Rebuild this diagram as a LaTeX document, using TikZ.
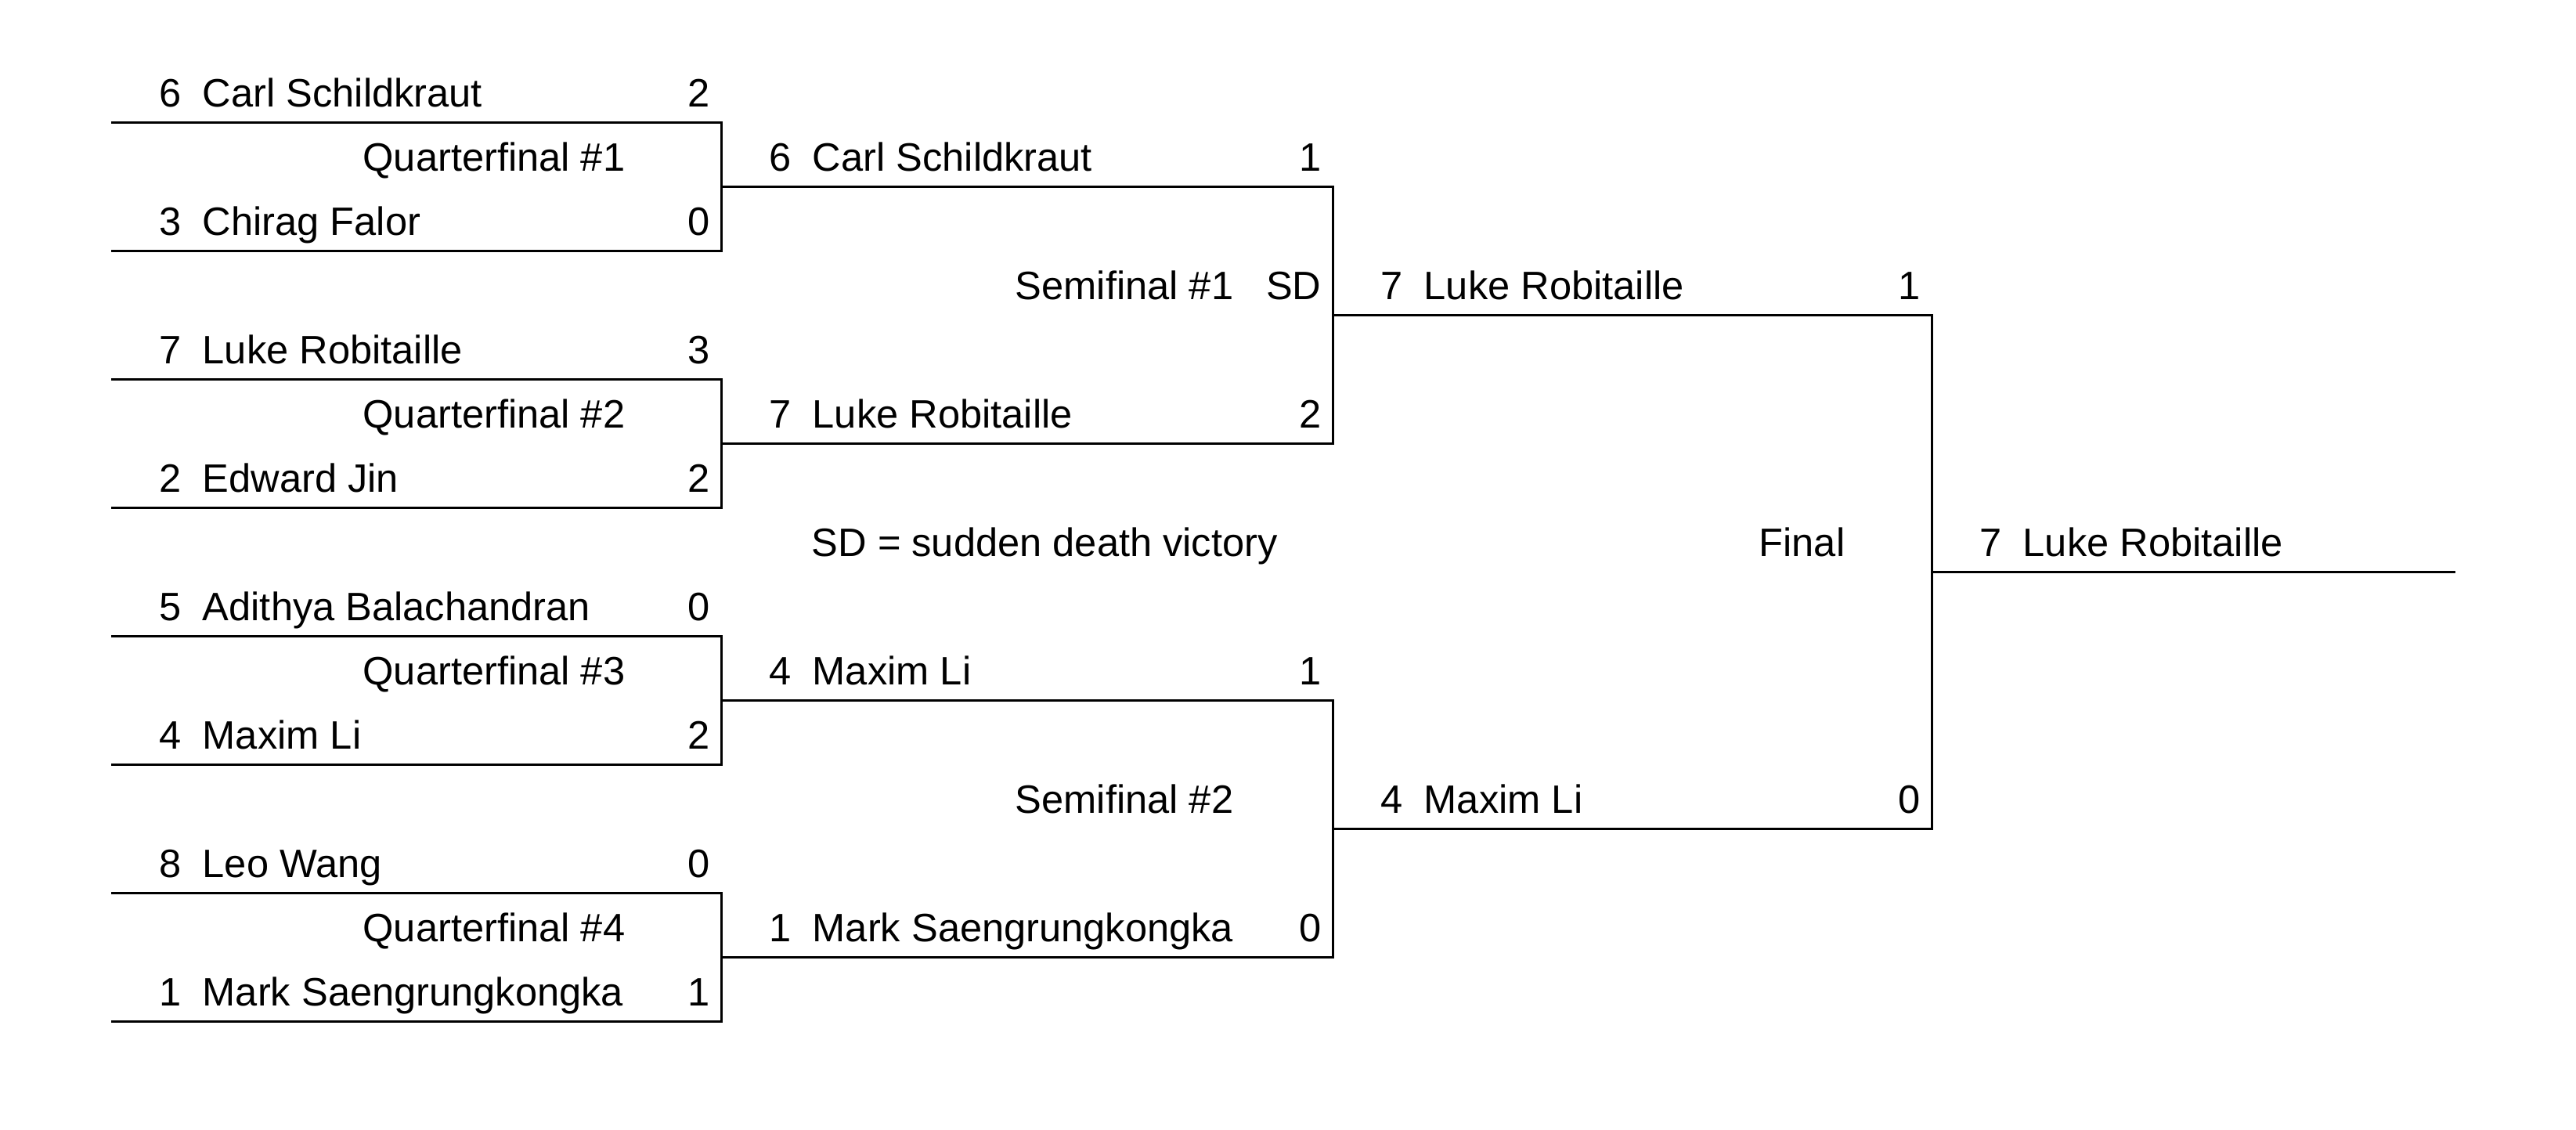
\documentclass[tikz,border=0pt]{standalone}
\usepackage{fontspec}
\setmainfont{Liberation Sans}
\usepackage{tikz}

\begin{document}
\begin{tikzpicture}[every node/.style={font=\fontsize{14.4pt}{17pt}\selectfont,inner sep=0pt},
  pl/.style={anchor=base west},
  sc/.style={anchor=base east},
  lbl/.style={anchor=base east},
  line/.style={draw=black,line width=0.85pt}]
  \useasboundingbox (0,0) rectangle (32.90,-14.42);
  % line ends
  \coordinate (st1) at (1.42,-1.56);  \coordinate (st2) at (1.42,-3.20);
  \coordinate (st3) at (1.42,-4.84);  \coordinate (st4) at (1.42,-6.48);
  \coordinate (st5) at (1.42,-8.12);  \coordinate (st6) at (1.42,-9.76);
  \coordinate (st7) at (1.42,-11.40); \coordinate (st8) at (1.42,-13.04);
  \coordinate (q1) at (9.21,-2.38);   \coordinate (q2) at (9.21,-5.66);
  \coordinate (q3) at (9.21,-8.94);   \coordinate (q4) at (9.21,-12.22);
  \coordinate (s1) at (17.02,-4.02);  \coordinate (s2) at (17.02,-10.58);
  \coordinate (f) at (24.67,-7.30);   \coordinate (w) at (31.36,-7.30);
  % quarterfinals
  \node[pl] (r1p1) at (2.03,-1.36) {6\hspace{0.27cm}Carl Schildkraut};
  \node[sc] (r1s1) at (9.07,-1.36) {2};
  \node[lbl] (qf1) at (7.99,-2.18) {Quarterfinal \#1};
  \node[pl] (r1p2) at (2.03,-3.00) {3\hspace{0.27cm}Chirag Falor};
  \node[sc] (r1s2) at (9.07,-3.00) {0};
  \node[pl] (r1p3) at (2.03,-4.64) {7\hspace{0.27cm}Luke Robitaille};
  \node[sc] (r1s3) at (9.07,-4.64) {3};
  \node[lbl] (qf2) at (7.99,-5.46) {Quarterfinal \#2};
  \node[pl] (r1p4) at (2.03,-6.28) {2\hspace{0.27cm}Edward Jin};
  \node[sc] (r1s4) at (9.07,-6.28) {2};
  \node[pl] (r1p5) at (2.03,-7.92) {5\hspace{0.27cm}Adithya Balachandran};
  \node[sc] (r1s5) at (9.07,-7.92) {0};
  \node[lbl] (qf3) at (7.99,-8.74) {Quarterfinal \#3};
  \node[pl] (r1p6) at (2.03,-9.56) {4\hspace{0.27cm}Maxim Li};
  \node[sc] (r1s6) at (9.07,-9.56) {2};
  \node[pl] (r1p7) at (2.03,-11.20) {8\hspace{0.27cm}Leo Wang};
  \node[sc] (r1s7) at (9.07,-11.20) {0};
  \node[lbl] (qf4) at (7.99,-12.02) {Quarterfinal \#4};
  \node[pl] (r1p8) at (2.03,-12.84) {1\hspace{0.27cm}Mark Saengrungkongka};
  \node[sc] (r1s8) at (9.07,-12.84) {1};
  % semifinals
  \node[pl] (r2p1) at (9.82,-2.18) {6\hspace{0.27cm}Carl Schildkraut};
  \node[sc] (r2s1) at (16.88,-2.18) {1};
  \node[lbl] (sf1) at (15.76,-3.82) {Semifinal \#1};
  \node[sc] (sd) at (16.88,-3.82) {SD};
  \node[pl] (r2p2) at (9.82,-5.46) {7\hspace{0.27cm}Luke Robitaille};
  \node[sc] (r2s2) at (16.88,-5.46) {2};
  \node[pl] (sdnote) at (10.36,-7.10) {SD = sudden death victory};
  \node[pl] (r2p3) at (9.82,-8.74) {4\hspace{0.27cm}Maxim Li};
  \node[sc] (r2s3) at (16.88,-8.74) {1};
  \node[lbl] (sf2) at (15.76,-10.38) {Semifinal \#2};
  \node[pl] (r2p4) at (9.82,-12.02) {1\hspace{0.27cm}Mark Saengrungkongka};
  \node[sc] (r2s4) at (16.88,-12.02) {0};
  % final
  \node[pl] (r3p1) at (17.63,-3.82) {7\hspace{0.27cm}Luke Robitaille};
  \node[sc] (r3s1) at (24.53,-3.82) {1};
  \node[lbl] (final) at (23.57,-7.10) {Final};
  \node[pl] (r3p2) at (17.63,-10.38) {4\hspace{0.27cm}Maxim Li};
  \node[sc] (r3s2) at (24.53,-10.38) {0};
  \node[pl] (champ) at (25.28,-7.10) {7\hspace{0.27cm}Luke Robitaille};
  % bracket lines
  \draw[line] (st1) -| (q1) |- (st2);
  \draw[line] (st3) -| (q2) |- (st4);
  \draw[line] (st5) -| (q3) |- (st6);
  \draw[line] (st7) -| (q4) |- (st8);
  \draw[line] (q1) -| (s1) |- (q2);
  \draw[line] (q3) -| (s2) |- (q4);
  \draw[line] (s1) -| (f) |- (s2);
  \draw[line] (f) -- (w);
\end{tikzpicture}
\end{document}
